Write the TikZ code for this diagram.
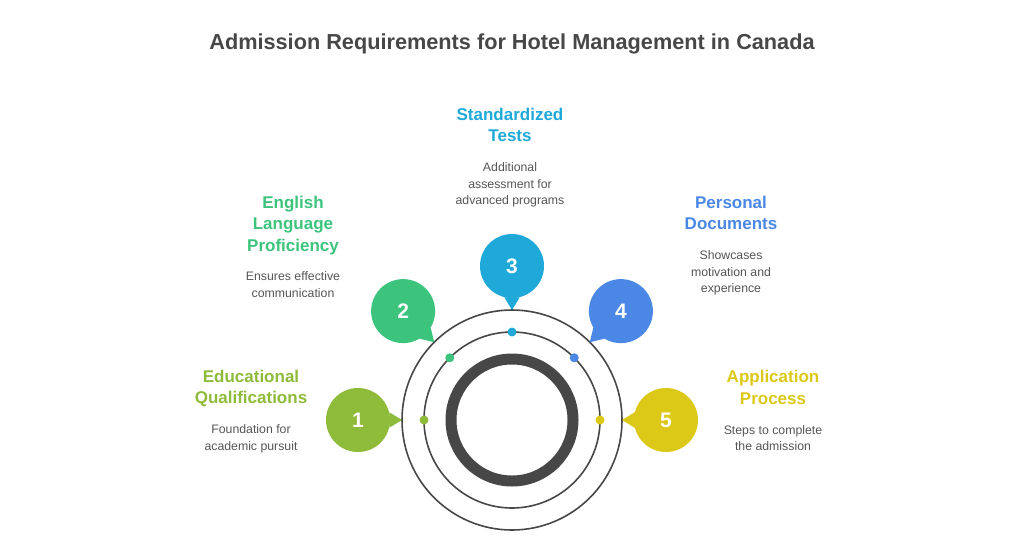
\documentclass[tikz,border=0pt]{standalone}
\usepackage{fontspec}
\setmainfont{Liberation Sans}
\usetikzlibrary{positioning}
\definecolor{cone}{HTML}{8FBB3A}
\definecolor{ctwo}{HTML}{3CC47C}
\definecolor{cthree}{HTML}{1EA9D8}
\definecolor{cfour}{HTML}{4B87E5}
\definecolor{cfive}{HTML}{DCC816}
\definecolor{textgray}{HTML}{555555}
\definecolor{ringgray}{HTML}{474747}
\tikzset{bubble/.style={circle,minimum size=64pt,inner sep=0pt,fill=#1,text=white,font=\bfseries\fontsize{21}{21}\selectfont}}
\tikzset{head/.style={inner sep=0pt,text depth=4pt,text=#1,align=center,font=\bfseries\fontsize{17}{21.5}\selectfont}}
\tikzset{desc/.style={inner sep=0pt,text=textgray,align=center,font=\fontsize{12.3}{16.3}\selectfont}}
\tikzset{dot/.style={circle,minimum size=9pt,inner sep=0pt,fill=#1}}
\tikzset{ring/.style={draw=ringgray,line width=1.6pt}}

\begin{document}
\begin{tikzpicture}[x=1pt,y=1pt,node distance=16.5pt]
  \useasboundingbox (0,0) rectangle (1024,-536);
  \node(title)[text=ringgray,font=\bfseries\fontsize{21.7}{21.7}\selectfont] at (512,-44){Admission Requirements for Hotel Management in Canada};
  \coordinate(c) at (512,-420);
  % rings
  \draw[ring] (c) circle[radius=110];
  \draw[ring] (c) circle[radius=88];
  \draw[draw=ringgray,line width=11pt] (c) circle[radius=61];
  % dots on the middle ring
  \node(d1)[dot=cone] at ([shift={(180:88)}]c){};
  \node(d2)[dot=ctwo] at ([shift={(135:88)}]c){};
  \node(d3)[dot=cthree] at ([shift={(90:88)}]c){};
  \node(d4)[dot=cfour] at ([shift={(45:88)}]c){};
  \node(d5)[dot=cfive] at ([shift={(0:88)}]c){};
  % tips on the outer ring
  \coordinate(p1) at ([shift={(180:110)}]c);
  \coordinate(p2) at ([shift={(135:110)}]c);
  \coordinate(p3) at ([shift={(90:110)}]c);
  \coordinate(p4) at ([shift={(45:110)}]c);
  \coordinate(p5) at ([shift={(0:110)}]c);
  % bubbles
  \node(n1)[bubble=cone] at ([shift={(180:154)}]c){1};
  \node(n2)[bubble=ctwo] at ([shift={(135:154)}]c){2};
  \node(n3)[bubble=cthree] at ([shift={(90:154)}]c){3};
  \node(n4)[bubble=cfour] at ([shift={(45:154)}]c){4};
  \node(n5)[bubble=cfive] at ([shift={(0:154)}]c){5};
  \fill[cone] (n1.14) -- (p1) -- (n1.-14);
  \fill[ctwo] (n2.-31) -- (p2) -- (n2.-59);
  \fill[cthree] (n3.256) -- (p3) -- (n3.284);
  \fill[cfour] (n4.211) -- (p4) -- (n4.239);
  \fill[cfive] (n5.166) -- (p5) -- (n5.194);
  % labels
  \node(t1)[head=cone] at (251,-389){Educational\\Qualifications};
  \node(s1)[desc,below=of t1]{Foundation for\\academic pursuit};
  \node(t2)[head=ctwo] at (293,-225.5){English\\Language\\Proficiency};
  \node(s2)[desc,below=of t2]{Ensures effective\\communication};
  \node(t3)[head=cthree] at (510,-127){Standardized\\Tests};
  \node(s3)[desc,below=of t3]{Additional\\assessment for\\advanced programs};
  \node(t4)[head=cfour] at (731,-215){Personal\\Documents};
  \node(s4)[desc,below=of t4]{Showcases\\motivation and\\experience};
  \node(t5)[head=cfive] at (773,-389.5){Application\\Process};
  \node(s5)[desc,below=of t5]{Steps to complete\\the admission};
\end{tikzpicture}
\end{document}
